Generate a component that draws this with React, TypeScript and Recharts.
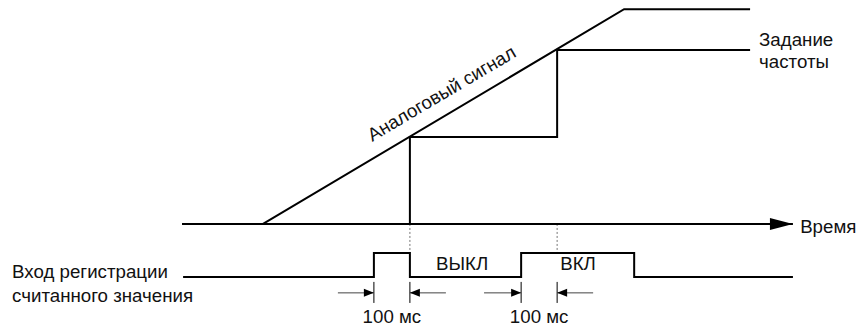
import { ComposedChart, Line, ReferenceDot, ReferenceLine, XAxis, YAxis } from 'recharts'

// Time in ms (100 ms pulse width), level in % of the analog maximum.
const X_DOMAIN: [number, number] = [-505.6, 1883.3]
const Y_DOMAIN: [number, number] = [-48, 104.3]

const analogSignal = [
    { t: 225, v: 0 },
    { t: 1228, v: 100 },
    { t: 1578, v: 100 },
]

const frequencyRef = [
    { t: 633, v: 0 },
    { t: 633, v: 40.5 },
    { t: 1042, v: 40.5 },
    { t: 1042, v: 81 },
    { t: 1578, v: 81 },
]

const timeAxis = [
    { t: 0, v: 0 },
    { t: 1697, v: 0, head: 1 },
]

const PULSE_LOW = -24.7
const PULSE_HIGH = -13.5
const pulseInput = [
    { t: 3, v: PULSE_LOW },
    { t: 533, v: PULSE_LOW },
    { t: 533, v: PULSE_HIGH },
    { t: 633, v: PULSE_HIGH },
    { t: 633, v: PULSE_LOW },
    { t: 942, v: PULSE_LOW },
    { t: 942, v: PULSE_HIGH },
    { t: 1256, v: PULSE_HIGH },
    { t: 1256, v: PULSE_LOW },
    { t: 1697, v: PULSE_LOW },
]

// dotted guides from the step edges down to the pulse top
const guideTimes = [633, 1042]

// 100 ms markers: tick times and arrows (from -> tip)
const MARK_TOP = -27
const MARK_BOTTOM = -36.8
const ARROW_LEVEL = -32.1
const markTimes = [533, 633, 942, 1042]
const arrows = [
    { from: 433, to: 533 },
    { from: 733, to: 633 },
    { from: 839, to: 942 },
    { from: 1142, to: 1042 },
]

const labels = [
    { text: 'Задание', t: 1603, v: 82.7, anchor: 'start' },
    { text: 'частоты', t: 1603, v: 72.5, anchor: 'start' },
    { text: 'Время', t: 1717, v: -4.3, anchor: 'start' },
    { text: 'ВЫКЛ', t: 778, v: -21.4, anchor: 'middle' },
    { text: 'ВКЛ', t: 1100, v: -21.4, anchor: 'middle' },
    { text: '100 мс', t: 583, v: -46.3, anchor: 'middle' },
    { text: '100 мс', t: 992, v: -46.3, anchor: 'middle' },
    { text: 'Вход регистрации', t: -472, v: -25.2, anchor: 'start' },
    { text: 'считанного значения', t: -472, v: -36.3, anchor: 'start' },
]
const analogLabel = { text: 'Аналоговый сигнал', t: 730, v: 58.2, angle: -30.6 }

const FONT = '"Liberation Sans", Arial, sans-serif'
const FONT_SIZE = 18.7

function textLabel(text: string, anchor: string, angle = 0) {
    return (props: any) => {
        const { x, y } = props.viewBox ?? {}
        if (x == null || y == null) return null
        return (
            <text
                x={x}
                y={y}
                textAnchor={anchor}
                fontFamily={FONT}
                fontSize={FONT_SIZE}
                fill="#111"
                transform={angle ? `rotate(${angle} ${x} ${y})` : undefined}
            >
                {text}
            </text>
        )
    }
}

// arrowhead drawn on the tip point of a two-point line
function arrowDot(len: number, half: number) {
    return (props: any) => {
        const { cx, cy, index, points } = props
        if (index !== 1 || cx == null) return <g key={`d${index}`} />
        const prev = points?.[0]
        const dir = prev && prev.x > cx ? -1 : 1
        const bx = cx - dir * len
        return (
            <polygon
                key={`d${index}`}
                points={`${cx},${cy} ${bx},${cy - half} ${bx},${cy + half}`}
                fill="#000"
            />
        )
    }
}

export default function App() {
    return (
        <div style={{ position: 'absolute', left: 0, top: 0, width: 860, height: 327, background: '#fff' }}>
            <ComposedChart width={860} height={327} margin={{ top: 0, right: 0, bottom: 0, left: 0 }}>
                <XAxis type="number" dataKey="t" domain={X_DOMAIN} allowDataOverflow hide />
                <YAxis type="number" dataKey="v" domain={Y_DOMAIN} allowDataOverflow hide />

                {guideTimes.map((t) => (
                    <ReferenceLine
                        key={`g${t}`}
                        segment={[{ x: t, y: 0 }, { x: t, y: PULSE_HIGH }]}
                        stroke="#777"
                        strokeWidth={1}
                        strokeDasharray="2 2"
                    />
                ))}

                <Line data={timeAxis} dataKey="v" stroke="#000" strokeWidth={2} isAnimationActive={false}
                    dot={arrowDot(23, 6)} activeDot={false} />
                <Line data={analogSignal} dataKey="v" type="linear" stroke="#000" strokeWidth={2}
                    dot={false} activeDot={false} isAnimationActive={false} />
                <Line data={frequencyRef} dataKey="v" type="linear" stroke="#000" strokeWidth={2}
                    dot={false} activeDot={false} isAnimationActive={false} />
                <Line data={pulseInput} dataKey="v" type="linear" stroke="#000" strokeWidth={2}
                    dot={false} activeDot={false} isAnimationActive={false} />

                {markTimes.map((t) => (
                    <ReferenceLine
                        key={`m${t}`}
                        segment={[{ x: t, y: MARK_TOP }, { x: t, y: MARK_BOTTOM }]}
                        stroke="#000"
                        strokeWidth={1}
                    />
                ))}
                {arrows.map((a) => (
                    <Line
                        key={`a${a.from}`}
                        data={[{ t: a.from, v: ARROW_LEVEL }, { t: a.to, v: ARROW_LEVEL }]}
                        dataKey="v"
                        stroke="#444"
                        strokeWidth={1}
                        dot={arrowDot(10, 4)}
                        activeDot={false}
                        isAnimationActive={false}
                    />
                ))}

                {labels.map((l, i) => (
                    <ReferenceDot key={`l${i}`} x={l.t} y={l.v} r={0} fill="none" stroke="none"
                        label={textLabel(l.text, l.anchor)} />
                ))}
                <ReferenceDot x={analogLabel.t} y={analogLabel.v} r={0} fill="none" stroke="none"
                    label={textLabel(analogLabel.text, 'middle', analogLabel.angle)} />
            </ComposedChart>
        </div>
    )
}
